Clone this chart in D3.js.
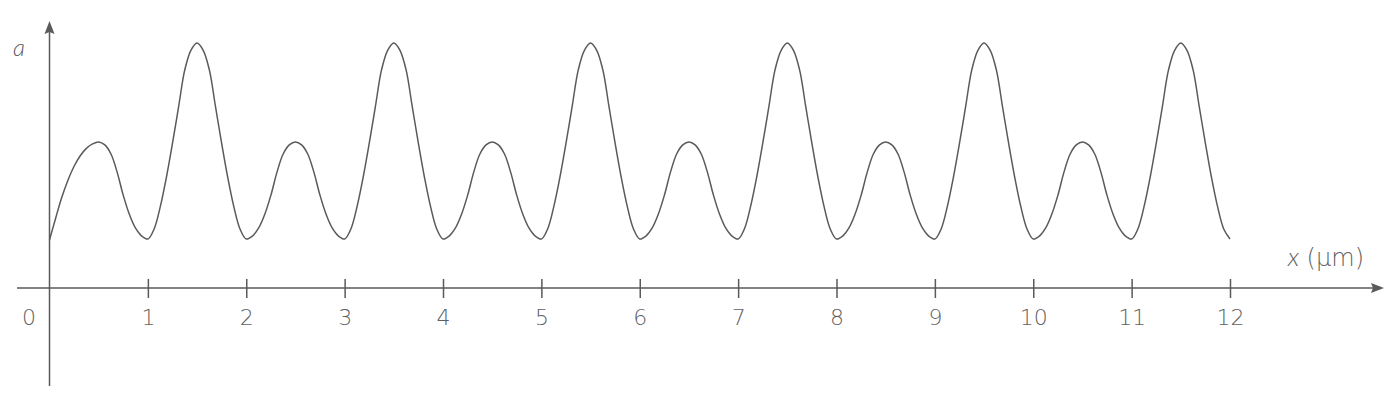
<!DOCTYPE html>
<html>
<head>
<meta charset="utf-8">
<script src="https://d3js.org/d3.v7.min.js"></script>
<style>
  body { margin: 0; background: #fff; }
  text { font-family: "DejaVu Sans", sans-serif; font-weight: 200; fill: #5f5f5f; opacity: 0.99; }
  .it { font-family: "Lato", "DejaVu Sans", sans-serif; font-weight: 300; font-style: italic; }
  .curve { fill: none; stroke: #5a5a5a; stroke-width: 1.5px; }
  .axisline { stroke: #5a5a5a; stroke-width: 1.5px; }
</style>
</head>
<body>
<script>
var xStep = 0.0625;
var xMax = 12;
// amplitude a, one row per micrometre (16 readings each), plus the end point
var aValues = [
  0.196, 0.285, 0.37, 0.44, 0.497, 0.54, 0.57, 0.588, 0.596, 0.584, 0.547, 0.473, 0.378, 0.30, 0.244, 0.212,
  0.2, 0.24, 0.33, 0.45, 0.59, 0.74, 0.89, 0.97, 1.0, 0.97, 0.89, 0.74, 0.59, 0.45, 0.33, 0.24,
  0.2, 0.212, 0.244, 0.30, 0.378, 0.473, 0.547, 0.584, 0.596, 0.584, 0.547, 0.473, 0.378, 0.30, 0.244, 0.212,
  0.2, 0.24, 0.33, 0.45, 0.59, 0.74, 0.89, 0.97, 1.0, 0.97, 0.89, 0.74, 0.59, 0.45, 0.33, 0.24,
  0.2, 0.212, 0.244, 0.30, 0.378, 0.473, 0.547, 0.584, 0.596, 0.584, 0.547, 0.473, 0.378, 0.30, 0.244, 0.212,
  0.2, 0.24, 0.33, 0.45, 0.59, 0.74, 0.89, 0.97, 1.0, 0.97, 0.89, 0.74, 0.59, 0.45, 0.33, 0.24,
  0.2, 0.212, 0.244, 0.30, 0.378, 0.473, 0.547, 0.584, 0.596, 0.584, 0.547, 0.473, 0.378, 0.30, 0.244, 0.212,
  0.2, 0.24, 0.33, 0.45, 0.59, 0.74, 0.89, 0.97, 1.0, 0.97, 0.89, 0.74, 0.59, 0.45, 0.33, 0.24,
  0.2, 0.212, 0.244, 0.30, 0.378, 0.473, 0.547, 0.584, 0.596, 0.584, 0.547, 0.473, 0.378, 0.30, 0.244, 0.212,
  0.2, 0.24, 0.33, 0.45, 0.59, 0.74, 0.89, 0.97, 1.0, 0.97, 0.89, 0.74, 0.59, 0.45, 0.33, 0.24,
  0.2, 0.212, 0.244, 0.30, 0.378, 0.473, 0.547, 0.584, 0.596, 0.584, 0.547, 0.473, 0.378, 0.30, 0.244, 0.212,
  0.2, 0.24, 0.33, 0.45, 0.59, 0.74, 0.89, 0.97, 1.0, 0.97, 0.89, 0.74, 0.59, 0.45, 0.33, 0.24,
  0.2
];
var tickValues = [0, 1, 2, 3, 4, 5, 6, 7, 8, 9, 10, 11, 12];
var xLabel = "(\u00b5m)";
var yLabel = "a";

var width = 1400, height = 402;

var svg = d3.select("body").append("svg")
    .attr("width", width)
    .attr("height", height);

var x = d3.scaleLinear().domain([0, xMax]).range([49.5, 1230]);
var y = d3.scaleLinear().domain([0, 1]).range([288, 43]);

// x axis line with arrow
svg.append("line").attr("class", "axisline")
    .attr("x1", 17).attr("x2", 1376)
    .attr("y1", y(0)).attr("y2", y(0));
svg.append("path")
    .attr("d", "M1384," + y(0) + " L1371," + (y(0) - 5) + " L1373," + y(0) + " L1371," + (y(0) + 5) + " Z")
    .attr("fill", "#5a5a5a");

// y axis line with arrow
svg.append("line").attr("class", "axisline")
    .attr("x1", x(0)).attr("x2", x(0))
    .attr("y1", 386).attr("y2", 30);
svg.append("path")
    .attr("d", "M" + x(0) + ",21 L" + (x(0) - 5) + ",34 L" + x(0) + ",32 L" + (x(0) + 5) + ",34 Z")
    .attr("fill", "#5a5a5a");

// ticks cross the axis
var axis = svg.append("g")
    .attr("transform", "translate(0," + y(0) + ")")
    .call(d3.axisBottom(x).tickValues(tickValues).tickSize(10).tickPadding(0));
axis.select(".domain").remove();
axis.selectAll(".tick line")
    .attr("y1", -9)
    .attr("stroke", "#5a5a5a")
    .attr("stroke-width", 1.5)
    .filter(function(d) { return d === 0; }).remove();
axis.selectAll(".tick text")
    .attr("y", 37)
    .attr("dy", null)
    .attr("font-family", null)
    .attr("fill", null)
    .style("font-size", "22px")
    .attr("dx", function(d) { return d === 0 ? -21 : 0; });

// curve
var pts = aValues.map(function(a, i) { return {x: i * xStep, a: a}; });
var line = d3.line()
    .x(function(d) { return x(d.x); })
    .y(function(d) { return y(d.a); })
    .curve(d3.curveCatmullRom);
svg.append("path").datum(pts).attr("class", "curve").attr("d", line);

// axis labels
var xl = svg.append("text")
    .attr("x", 1364).attr("y", 266)
    .attr("text-anchor", "end")
    .style("font-size", "24px");
xl.append("tspan").attr("class", "it").style("font-size", "26px").text("x");
xl.append("tspan").text(" " + xLabel);

svg.append("text")
    .attr("class", "it")
    .attr("x", 19).attr("y", 56)
    .attr("text-anchor", "middle")
    .style("font-size", "24px")
    .text(yLabel);
</script>
</body>
</html>
